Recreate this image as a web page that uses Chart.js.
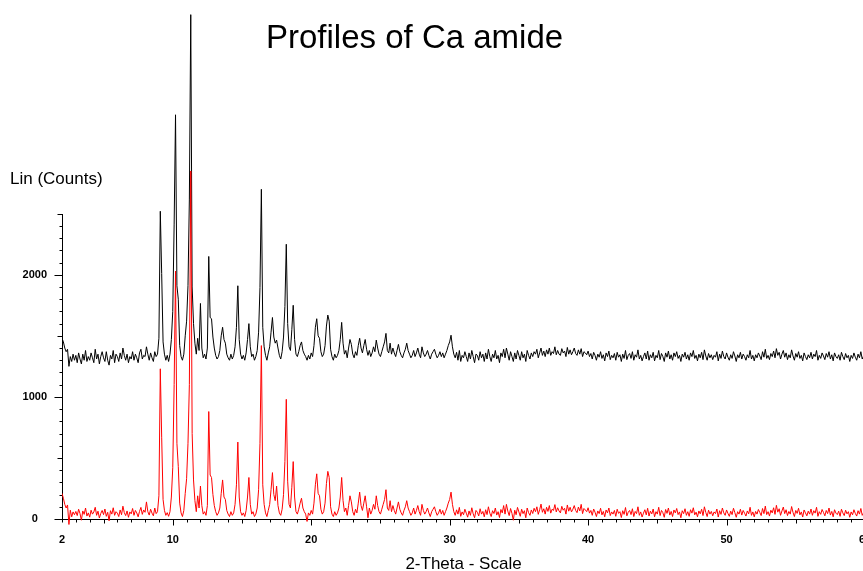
<!DOCTYPE html>
<html>
<head>
<meta charset="UTF-8">
<title>Profiles of Ca amide</title>
<style>
    html, body { margin: 0; padding: 0; background: #fff; overflow: hidden; }
    #wrap { position: relative; width: 863px; height: 571px; overflow: hidden; }
    canvas { display: block; position: absolute; left: 0; top: 0; }
    .lbl { position: absolute; font-family: "Liberation Sans", Arial, sans-serif; color: #000; white-space: nowrap; }
    #title { left: 266px; top: 20px; font-size: 33px; line-height: 33px; }
    #ytitle { left: 10px; top: 170px; font-size: 17px; line-height: 17px; }
</style>
</head>
<body>
<div id="wrap">
    <canvas id="chart" width="865" height="571"></canvas>
    <div class="lbl" id="title">Profiles of Ca amide</div>
    <div class="lbl" id="ytitle">Lin (Counts)</div>
</div>
<script src="https://cdn.jsdelivr.net/npm/chart.js"></script>
<script>
// scan grid: 2-Theta from 2.0 to 60.0 deg, one reading every 0.1 deg
const startAngle = 2.0;
const stepAngle = 0.1;

// x tick labels / y tick labels
const xTickValues = [2, 10, 20, 30, 40, 50, 60];
const yTickValues = [0, 1000, 2000];
const yAxisTop = 2500;

// red scan (counts), rows = one degree each (d.0 ... d.9)
const countsRed = [
    210, 170, 120, 90, 115, -45, 72, 18, 58, 35,        // 2
    62, 28, 80, 45, -10, 66, 38, 90, 24, 50,            // 3
    15, 72, 40, 58, 96, 30, 64, 8, 45, 70,              // 4
    36, 82, 22, 55, -15, 68, 40, 92, 30, 60,            // 5
    48, 20, 74, 35, 105, 52, 28, 66, 14, 58,            // 6
    42, 86, 30, 70, 50, 18, 62, 95, 38, 74,             // 7
    55, 140, 60, 32, 80, 48, 26, 90, 44, 60,            // 8
    190, 1230, 670, 160, 70, 30, 52, 22, 60, 180,       // 9
    420, 1100, 2030, 620, 430, 130, 50, 20, 70, 210,    // 10
    330, 620, 1100, 2850, 700, 320, 150, 60, 190, 90,   // 11
    270, 110, 40, 60, 30, 110, 880, 360, 340, 200,      // 12
    110, 60, 30, 50, 90, 210, 320, 180, 160, 70,        // 13
    40, 20, 60, 30, 50, 120, 280, 630, 180, 60,         // 14
    30, 50, 20, 70, 180, 340, 120, 40, 60, 20,          // 15
    40, 90, 240, 620, 1420, 280, 120, 50, 20, 70,       // 16
    120, 240, 380, 200, 150, 270, 110, 50, 30, 80,      // 17
    200, 470, 980, 310, 120, 90, 260, 470, 180, 60,     // 18
    40, 80, 130, 170, 90, 60, 40, -20, 50, 30,          // 19
    70, 40, 130, 280, 370, 210, 190, 80, 40, 60,        // 20
    130, 290, 390, 340, 100, 40, 20, 60, 30, 50,        // 21
    90, 180, 340, 150, 60, 90, 30, 110, 190, 140,       // 22
    60, 30, 80, 50, 130, 220, 110, 70, 130, 190,        // 23
    100, 10, 90, 40, 70, 120, 80, 190, 110, 60,         // 24
    40, 80, 120, 160, 240, 90, 70, 150, 60, 110,        // 25
    70, 40, 90, 140, 80, 50, 30, 70, 100, 150,          // 26
    90, 60, 30, 50, 90, 40, 70, 110, 60, 30,            // 27
    120, 70, 40, 60, 90, 50, 20, 60, 80, 100,           // 28
    60, 30, 50, 80, 40, 70, 30, 60, 90, 130,            // 29
    160, 220, 120, 60, 30, 75, 40, 95, 22, 58,          // 30
    35, 80, 48, 15, 66, 30, 92, 42, 10, 70,             // 31
    55, 25, 84, 40, 62, 18, 76, 36, 100, 48,            // 32
    20, 68, 45, 90, 32, 60, 12, 78, 50, 110,            // 33
    40, 120, 65, 28, 86, 46, -10, 72, 35, 95,           // 34
    58, 22, 80, 44, 68, 10, 90, 52, 30, 74,             // 35
    45, 88, 60, 100, 38, 76, 122, 55, 84, 40,           // 36
    96, 62, 110, 48, 80, 70, 118, 58, 92, 66,           // 37
    50, 104, 72, 88, 40, 115, 64, 96, 58, 80,           // 38
    110, 70, 52, 98, 66, 120, 44, 86, 74, 60,           // 39
    92, 48, 70, 30, 82, 56, 20, 66, 44, 88,             // 40
    34, 62, 18, 74, 50, 90, 28, 58, 40, 70,             // 41
    22, 80, 46, 60, 12, 68, 38, 94, 26, 56,             // 42
    70, 36, 84, 20, 62, 44, 100, 30, 58, 16,            // 43
    48, 76, 34, 88, 24, 64, 42, 82, 18, 60,             // 44
    40, 96, 28, 70, 52, 14, 78, 46, 90, 32,             // 45
    62, 20, 74, 50, 86, 36, 58, 10, 68, 44,             // 46
    84, 30, 60, 22, 76, 48, 92, 34, 56, 18,             // 47
    66, 42, 80, 28, 100, 54, 20, 72, 40, 62,            // 48
    26, 58, 44, 82, 16, 68, 38, 90, 50, 30,             // 49
    74, 46, 22, 64, 36, 88, 52, 14, 60, 40,             // 50
    80, 32, 70, 48, 24, 66, 42, 96, 30, 58,             // 51
    18, 62, 40, 78, 54, 28, 86, 44, 106, 36,            // 52
    60, 24, 72, 50, 92, 38, 112, 56, 84, 30,            // 53
    66, 98, 44, 76, 28, 62, 40, 102, 54, 20,            // 54
    70, 46, 88, 34, 58, 16, 74, 50, 26, 64,             // 55
    40, 82, 30, 68, 48, 96, 22, 60, 38, 78,             // 56
    54, 26, 70, 44, 90, 32, 62, 18, 76, 48,             // 57
    36, 64, 22, 80, 50, 28, 72, 42, 60, 14,             // 58
    58, 34, 76, 46, 24, 68, 40, 86, 30, 52,             // 59
    44                                                  // 60
];

// black scan (counts), same grid
const countsBlack = [
    1480, 1450, 1400, 1370, 1390, 1250, 1330, 1290, 1350, 1300,   // 2
    1340, 1280, 1360, 1310, 1270, 1350, 1300, 1380, 1290, 1330,   // 3
    1300, 1360, 1320, 1280, 1390, 1310, 1350, 1270, 1330, 1370,   // 4
    1320, 1290, 1370, 1300, 1260, 1340, 1310, 1380, 1280, 1350,   // 5
    1330, 1290, 1360, 1310, 1400, 1340, 1300, 1350, 1280, 1330,   // 6
    1310, 1370, 1300, 1350, 1320, 1280, 1360, 1390, 1310, 1340,   // 7
    1330, 1410, 1350, 1300, 1360, 1320, 1290, 1370, 1330, 1350,   // 8
    1480, 2520, 2010, 1450, 1350, 1300, 1340, 1290, 1350, 1470,   // 9
    1700, 2415, 3310, 1910, 1800, 1420, 1330, 1300, 1350, 1500,   // 10
    1620, 1910, 2620, 4130, 1900, 1600, 1440, 1350, 1480, 1380,   // 11
    1765, 1400, 1320, 1350, 1310, 1400, 2150, 1650, 1640, 1490,   // 12
    1400, 1340, 1310, 1330, 1380, 1500, 1570, 1470, 1440, 1350,   // 13
    1320, 1300, 1350, 1310, 1340, 1410, 1570, 1910, 1470, 1350,   // 14
    1310, 1340, 1300, 1360, 1470, 1600, 1410, 1330, 1350, 1300,   // 15
    1330, 1380, 1530, 1895, 2700, 1570, 1410, 1340, 1300, 1360,   // 16
    1410, 1530, 1650, 1490, 1440, 1465, 1400, 1340, 1310, 1370,   // 17
    1490, 1740, 2250, 1600, 1410, 1380, 1550, 1750, 1470, 1350,   // 18
    1330, 1370, 1420, 1450, 1380, 1350, 1330, 1300, 1340, 1310,   // 19
    1360, 1330, 1420, 1570, 1640, 1500, 1480, 1370, 1330, 1350,   // 20
    1420, 1580, 1670, 1620, 1390, 1330, 1300, 1350, 1320, 1340,   // 21
    1380, 1470, 1610, 1440, 1350, 1380, 1320, 1400, 1470, 1430,   // 22
    1350, 1320, 1370, 1340, 1420, 1480, 1400, 1360, 1420, 1470,   // 23
    1390, 1340, 1380, 1330, 1360, 1410, 1370, 1465, 1400, 1350,   // 24
    1330, 1370, 1410, 1450, 1520, 1380, 1360, 1440, 1350, 1400,   // 25
    1360, 1330, 1380, 1430, 1370, 1340, 1320, 1360, 1390, 1440,   // 26
    1380, 1350, 1320, 1340, 1380, 1330, 1360, 1400, 1350, 1320,   // 27
    1410, 1360, 1330, 1350, 1380, 1340, 1310, 1350, 1370, 1390,   // 28
    1350, 1320, 1340, 1370, 1330, 1360, 1320, 1350, 1380, 1420,   // 29
    1450, 1505, 1410, 1350, 1320, 1365, 1300, 1380, 1290, 1340,   // 30
    1320, 1370, 1330, 1290, 1360, 1310, 1380, 1330, 1280, 1350,   // 31
    1340, 1300, 1370, 1320, 1350, 1290, 1360, 1310, 1390, 1330,   // 32
    1290, 1350, 1320, 1380, 1310, 1340, 1280, 1360, 1330, 1390,   // 33
    1320, 1400, 1350, 1300, 1370, 1330, 1290, 1360, 1310, 1380,   // 34
    1340, 1300, 1370, 1320, 1350, 1290, 1380, 1340, 1310, 1360,   // 35
    1330, 1370, 1350, 1390, 1320, 1360, 1400, 1340, 1375, 1330,   // 36
    1385, 1350, 1400, 1340, 1370, 1355, 1410, 1345, 1380, 1350,   // 37
    1340, 1395, 1360, 1375, 1330, 1405, 1350, 1385, 1345, 1370,   // 38
    1400, 1355, 1340, 1385, 1350, 1395, 1330, 1370, 1360, 1345,   // 39
    1375, 1330, 1355, 1310, 1365, 1340, 1300, 1350, 1325, 1370,   // 40
    1315, 1345, 1295, 1360, 1330, 1375, 1305, 1340, 1320, 1355,   // 41
    1300, 1365, 1325, 1345, 1290, 1350, 1315, 1380, 1305, 1340,   // 42
    1355, 1315, 1370, 1300, 1345, 1325, 1385, 1310, 1340, 1295,   // 43
    1330, 1360, 1310, 1375, 1300, 1345, 1320, 1365, 1295, 1340,   // 44
    1320, 1380, 1305, 1355, 1330, 1290, 1360, 1325, 1375, 1310,   // 45
    1345, 1300, 1360, 1330, 1370, 1315, 1340, 1290, 1350, 1325,   // 46
    1365, 1310, 1345, 1300, 1360, 1330, 1380, 1315, 1340, 1295,   // 47
    1350, 1320, 1365, 1305, 1385, 1335, 1300, 1355, 1320, 1345,   // 48
    1305, 1340, 1325, 1370, 1295, 1350, 1315, 1375, 1330, 1310,   // 49
    1360, 1325, 1300, 1345, 1315, 1370, 1335, 1290, 1345, 1320,   // 50
    1365, 1310, 1350, 1330, 1300, 1345, 1320, 1380, 1310, 1340,   // 51
    1295, 1345, 1320, 1360, 1335, 1305, 1370, 1325, 1390, 1315,   // 52
    1340, 1305, 1355, 1330, 1375, 1320, 1395, 1340, 1365, 1310,   // 53
    1350, 1380, 1325, 1360, 1305, 1345, 1320, 1385, 1335, 1300,   // 54
    1355, 1325, 1370, 1315, 1340, 1295, 1360, 1330, 1305, 1345,   // 55
    1320, 1365, 1310, 1350, 1330, 1380, 1300, 1340, 1315, 1360,   // 56
    1335, 1305, 1355, 1325, 1370, 1310, 1345, 1295, 1360, 1330,   // 57
    1315, 1345, 1300, 1365, 1330, 1305, 1355, 1320, 1340, 1290,   // 58
    1340, 1315, 1360, 1325, 1300, 1350, 1320, 1370, 1310, 1335,   // 59
    1325                                                          // 60
];

const twoTheta = countsRed.map((_, i) => +(startAngle + i * stepAngle).toFixed(1));
const toPoints = counts => counts.map((c, i) => ({ x: twoTheta[i], y: c }));

// axis line + tick marks the way the diffractometer software draws them
const axesPlugin = {
    id: 'xrdAxes',
    beforeDatasetsDraw(chart) {
        const { ctx, scales: { x, y } } = chart;
        const y0 = Math.round(y.getPixelForValue(0)) + 0.5;
        const x0 = Math.round(x.getPixelForValue(2)) + 0.5;
        ctx.save();
        ctx.strokeStyle = '#000';
        ctx.lineWidth = 1;
        ctx.beginPath();
        ctx.moveTo(x0 - 7, y0);
        ctx.lineTo(chart.width, y0);
        ctx.moveTo(x0, y0);
        ctx.lineTo(x0, Math.round(y.getPixelForValue(yAxisTop)));
        for (let d = 2; d <= 60; d++) {
            const len = d % 10 === 0 ? 6 : (d % 5 === 0 ? 4 : 3);
            const px = Math.round(x.getPixelForValue(d)) + 0.5;
            ctx.moveTo(px, y0);
            ctx.lineTo(px, y0 + len);
        }
        for (let v = 0; v <= yAxisTop; v += 100) {
            const len = v % 1000 === 0 ? 8 : (v % 500 === 0 ? 5 : 3);
            const py = Math.round(y.getPixelForValue(v)) + 0.5;
            ctx.moveTo(x0, py);
            ctx.lineTo(x0 - len, py);
        }
        ctx.stroke();
        ctx.restore();
    }
};

const tickFont = { family: '"Liberation Sans", Arial, sans-serif', size: 11, weight: 'bold' };

new Chart(document.getElementById('chart').getContext('2d'), {
    type: 'line',
    data: {
        datasets: [
            {
                label: 'red',
                data: toPoints(countsRed),
                borderColor: '#ff0000',
                borderWidth: 1,
                pointRadius: 0,
                tension: 0,
                clip: { left: 0, top: 20, right: 0, bottom: 12 }
            },
            {
                label: 'black',
                data: toPoints(countsBlack),
                borderColor: '#000000',
                borderWidth: 1,
                pointRadius: 0,
                tension: 0,
                clip: { left: 0, top: 20, right: 0, bottom: 12 }
            }
        ]
    },
    options: {
        responsive: false,
        animation: false,
        events: [],
        parsing: false,
        normalized: true,
        layout: { padding: 0 },
        plugins: {
            legend: { display: false },
            tooltip: { enabled: false },
            title: { display: false }
        },
        scales: {
            x: {
                type: 'linear',
                min: 2,
                max: 60,
                grid: { display: false },
                border: { display: false },
                afterBuildTicks: s => { s.ticks = xTickValues.map(v => ({ value: v })); },
                afterFit: s => { s.height = 52; s.paddingLeft = 0; s.paddingRight = 0; },
                ticks: {
                    font: tickFont,
                    color: '#000',
                    padding: 6,
                    maxRotation: 0,
                    autoSkip: false,
                    callback: v => String(v)
                },
                title: {
                    display: true,
                    text: '2-Theta - Scale',
                    color: '#000',
                    font: { family: '"Liberation Sans", Arial, sans-serif', size: 17 },
                    padding: { top: 0, bottom: -4 }
                }
            },
            y: {
                type: 'linear',
                min: 0,
                max: 4250,
                grid: { display: false },
                border: { display: false },
                afterBuildTicks: s => { s.ticks = yTickValues.map(v => ({ value: v })); },
                afterFit: s => { s.width = 62; s.paddingTop = 0; s.paddingBottom = 0; },
                ticks: {
                    font: tickFont,
                    color: '#000',
                    padding: 7,
                    crossAlign: 'center',
                    autoSkip: false,
                    callback: v => String(v)
                }
            }
        }
    },
    plugins: [axesPlugin]
});
</script>
</body>
</html>
